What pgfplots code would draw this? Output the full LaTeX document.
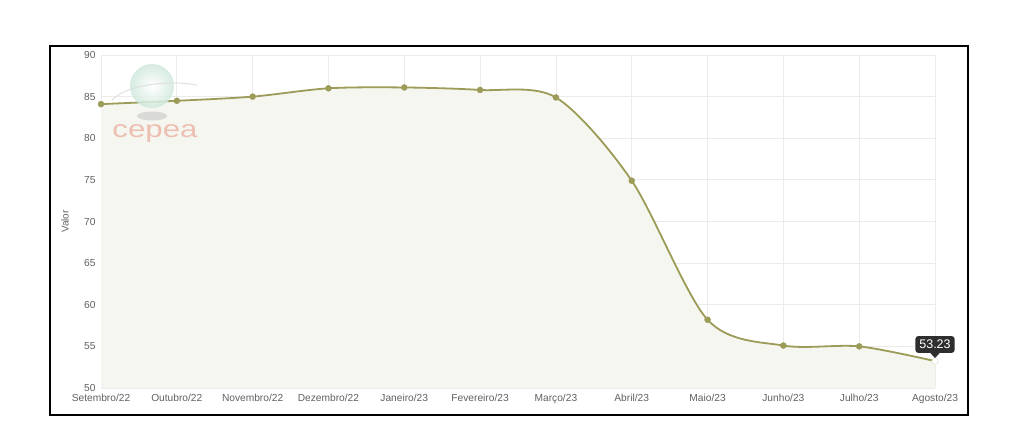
\documentclass[border=0pt]{standalone}
\usepackage{fontspec}
\setmainfont{Liberation Sans}
\usepackage{pgfplots}
\pgfplotsset{compat=1.18}

\definecolor{lineol}{HTML}{9C9B58}
\definecolor{fillol}{HTML}{F5F6EF}
\definecolor{gridc}{HTML}{EBEBEB}
\definecolor{tickc}{HTML}{606060}
\definecolor{cepeac}{HTML}{EDBFB3}
\definecolor{globec}{HTML}{CFE8DC}

\begin{document}
\begin{tikzpicture}[x=1pt,y=1pt]
\path[use as bounding box] (0,0) rectangle (1024,436);

\begin{axis}[
  at={(101pt,48pt)}, anchor=south west,
  scale only axis,
  width=834pt, height=333pt,
  xmin=0, xmax=11,
  ymin=50, ymax=90,
  ytick={50,55,...,90},
  xtick={0,...,11},
  xticklabels={Setembro/22,Outubro/22,Novembro/22,Dezembro/22,Janeiro/23,Fevereiro/23,Março/23,Abril/23,Maio/23,Junho/23,Julho/23,Agosto/23},
  grid=major,
  major grid style={gridc, line width=0.8pt},
  axis line style={draw=none},
  tick style={draw=none},
  tick label style={text=tickc, font=\fontsize{10.2}{11}\selectfont},
  /pgf/number format/assume math mode=true,
  xticklabel style={yshift=-2.5pt},
  yticklabel style={xshift=-2pt},
  ylabel={Valor},
  ylabel style={text=tickc, font=\fontsize{10}{11}\selectfont, at={(axis description cs:-0.043,0.5)}, anchor=center},
  clip=false,
]
\addplot[draw=none, fill=fillol, smooth, tension=0.5] coordinates {
  (0,84.1) (1,84.5) (2,85.0) (3,86.0) (4,86.1) (5,85.8) (6,84.9)
  (7,74.9) (8,58.2) (9,55.1) (10,55.0) (11,53.23)
} \closedcycle;
\addplot[lineol, line width=1.8pt, smooth, tension=0.5] coordinates {
  (0,84.1) (1,84.5) (2,85.0) (3,86.0) (4,86.1) (5,85.8) (6,84.9)
  (7,74.9) (8,58.2) (9,55.1) (10,55.0) (11,53.23)
};
\addplot[only marks, mark=*, mark size=3pt, mark options={fill=lineol, draw=lineol}] coordinates {
  (0,84.1) (1,84.5) (2,85.0) (3,86.0) (4,86.1) (5,85.8) (6,84.9)
  (7,74.9) (8,58.2) (9,55.1) (10,55.0)
};
\addplot[only marks, mark=*, mark size=3.2pt, mark options={fill=white, draw=white!75!lineol, line width=0.6pt}] coordinates {(11,53.23)};
\node[fill=black!82, text=white, rounded corners=3pt, inner xsep=4pt, inner ysep=4pt,
  font=\fontsize{12.5}{13}\selectfont, anchor=south] (tip) at ([yshift=8pt]axis cs:11,53.23) {53.23};
\fill[black!82] ([xshift=-5pt,yshift=0.5pt]tip.south) -- ([xshift=5pt,yshift=0.5pt]tip.south) -- ([yshift=-5pt]tip.south) -- cycle;
\end{axis}

% watermark
\shade[inner color=white, outer color=globec, opacity=0.85] (152,350) circle (22);
\fill[gray!35, opacity=0.8] (152,320) ellipse (15 and 4.5);
\draw[gray!25, line width=1pt] (112,336) .. controls (128,352) and (170,356) .. (197,351);
\node[text=cepeac, font=\fontsize{24}{24}\selectfont, xscale=1.3] at (155,302) {cepea};

\draw[black, line width=1.8pt] (50,21) rectangle (968,390);
\end{tikzpicture}
\end{document}
